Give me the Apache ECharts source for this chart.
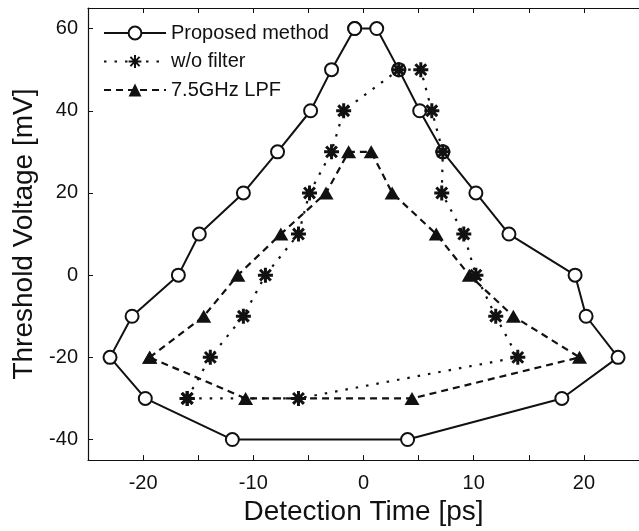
<!DOCTYPE html>
<html>
<head>
<meta charset="utf-8">
<script src="https://cdn.jsdelivr.net/npm/echarts@6/dist/echarts.min.js"></script>
<style>
html,body{margin:0;padding:0;background:#fff;}
#chart{width:639px;height:531px;}
</style>
</head>
<body>
<div id="chart"></div>
<script>
// Tick positions and labels
const xTickValues = [-20, -15, -10, -5, 0, 5, 10, 15, 20];
const xLabelValues = [-20, -10, 0, 10, 20];
const yTickValues = [-40, -20, 0, 20, 40, 60];

// Series names
const seriesNames = ['Proposed method', 'w/o filter', '7.5GHz LPF'];

// Proposed method (closed loop)
const proposedX = [-0.8, -2.9, -4.8, -7.8, -10.9, -14.9, -16.8, -21.0, -23.0, -19.8, -11.9, 4.0, 18.0, 23.1, 20.2, 19.2, 13.2, 10.2, 7.2, 5.1, 3.2, 1.2, -0.8];
const proposedY = [60, 50, 40, 30, 20, 10, 0, -10, -20, -30, -40, -40, -30, -20, -10, 0, 10, 20, 30, 40, 50, 60, 60];

// w/o filter (closed loop)
const noFilterX = [-16.0, -13.9, -10.9, -8.9, -5.9, -4.9, -2.9, -1.8, 3.2, 5.2, 6.2, 7.2, 7.1, 9.1, 10.2, 12.0, 14.0, -5.9, -16.0];
const noFilterY = [-30, -20, -10, 0, 10, 20, 30, 40, 50, 50, 40, 30, 20, 10, 0, -10, -20, -30, -30];

// 7.5GHz LPF (closed loop)
const lpfX = [-19.4, -14.5, -11.4, -7.5, -3.4, -1.35, 0.7, 2.6, 6.6, 9.6, 13.6, 19.6, 4.4, -10.7, -19.4];
const lpfY = [-20, -10, 0, 10, 20, 30, 30, 20, 10, 0, -10, -20, -30, -30, -20];

const zip = (xs, ys) => xs.map((x, i) => [x, ys[i]]);

const FONT = 'Liberation Sans';
const INK = '#111';
const asterisk = 'path://M0,-1L0,1M-1,0L1,0M-0.72,-0.72L0.72,0.72M-0.72,0.72L0.72,-0.72';

const chart = echarts.init(document.getElementById('chart'), null, {renderer: 'canvas'});
chart.setOption({
  animation: false,
  backgroundColor: '#fff',
  grid: {left: 88, top: 8, width: 555, height: 460, containLabel: false},
  legend: {
    orient: 'vertical',
    left: 103,
    top: 23,
    padding: 0,
    itemWidth: 62,
    itemHeight: 16,
    itemGap: 8.5,
    textStyle: {fontFamily: FONT, fontSize: 20, color: INK},
    data: seriesNames
  },
  xAxis: [{
    type: 'value', min: -25, max: 25, position: 'bottom',
    name: 'Detection Time [ps]', nameLocation: 'middle', nameGap: 35,
    nameTextStyle: {fontFamily: FONT, fontSize: 28, color: INK},
    axisLine: {show: true, onZero: false, lineStyle: {color: INK, width: 1.2}},
    axisTick: {show: true, inside: true, length: 5, customValues: xTickValues, lineStyle: {color: INK}},
    axisLabel: {show: true, margin: 13, customValues: xLabelValues, fontFamily: FONT, fontSize: 20, color: INK},
    splitLine: {show: false}
  }, {
    type: 'value', min: -25, max: 25, position: 'top',
    axisLine: {show: true, onZero: false, lineStyle: {color: INK, width: 1.2}},
    axisTick: {show: true, inside: true, length: 5, customValues: xTickValues, lineStyle: {color: INK}},
    axisLabel: {show: false},
    splitLine: {show: false}
  }],
  yAxis: [{
    type: 'value', min: -45, max: 65, position: 'left',
    name: 'Threshold Voltage [mV]', nameLocation: 'middle', nameGap: 41, nameRotate: 90,
    nameTextStyle: {fontFamily: FONT, fontSize: 28, color: INK},
    axisLine: {show: true, onZero: false, lineStyle: {color: INK, width: 1.2}},
    axisTick: {show: true, inside: true, length: 5, customValues: yTickValues, lineStyle: {color: INK}},
    axisLabel: {show: true, margin: 10, customValues: yTickValues, fontFamily: FONT, fontSize: 20, color: INK},
    splitLine: {show: false}
  }],
  series: [{
    name: seriesNames[0], type: 'line', xAxisIndex: 0, yAxisIndex: 0,
    data: zip(proposedX, proposedY),
    symbol: 'circle', symbolSize: 13,
    lineStyle: {color: INK, width: 2, type: 'solid'},
    itemStyle: {color: '#fff', borderColor: INK, borderWidth: 2},
    z: 2
  }, {
    name: seriesNames[1], type: 'line', xAxisIndex: 0, yAxisIndex: 0,
    data: zip(noFilterX, noFilterY),
    symbol: asterisk, symbolSize: 15,
    lineStyle: {color: INK, width: 2.2, type: [2.5, 8]},
    itemStyle: {color: INK, borderColor: INK, borderWidth: 3},
    z: 3
  }, {
    name: seriesNames[2], type: 'line', xAxisIndex: 0, yAxisIndex: 0,
    data: zip(lpfX, lpfY),
    symbol: 'triangle', symbolSize: [15, 13],
    lineStyle: {color: INK, width: 2.2, type: [7, 5]},
    itemStyle: {color: INK, borderColor: INK, borderWidth: 0},
    z: 4
  }]
});
</script>
</body>
</html>
